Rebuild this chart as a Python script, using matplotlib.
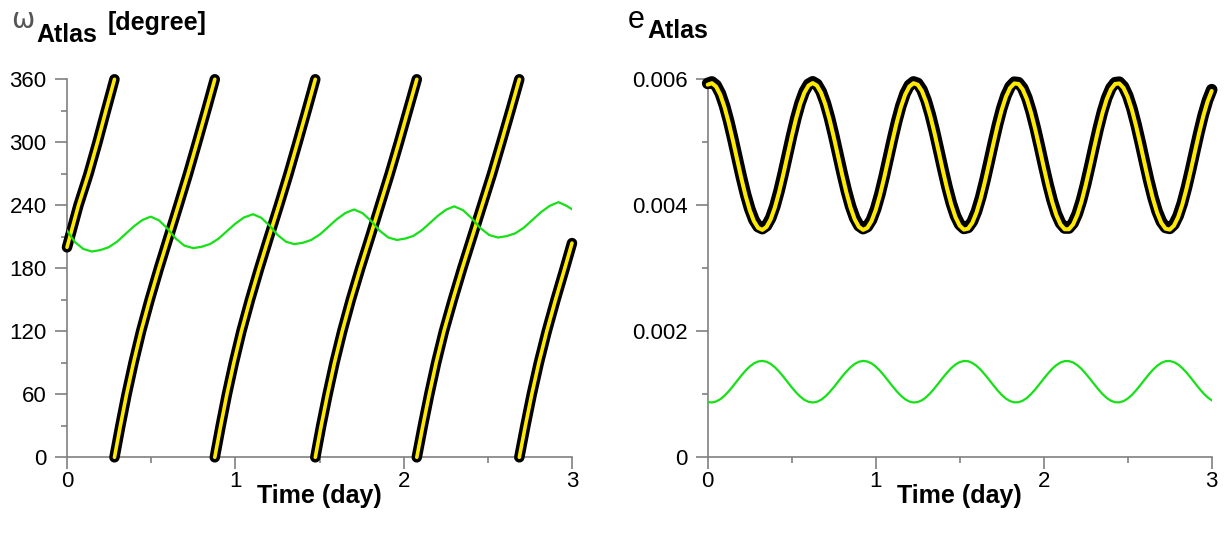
import matplotlib
matplotlib.use("Agg")
import matplotlib.pyplot as plt
import matplotlib.transforms as mtransforms
from matplotlib.ticker import MultipleLocator, FixedLocator, FixedFormatter

plt.rcParams['font.family'] = ['Liberation Sans', 'DejaVu Sans']

# --- left panel: argument of pericentre of Atlas, one piece per wrap 0..360 ---
omega_t = [
    [0.000, 0.017, 0.068, 0.128, 0.181, 0.231, 0.282],
    [0.282, 0.317, 0.354, 0.395, 0.440, 0.491, 0.546, 0.604, 0.662, 0.719, 0.773, 0.826, 0.878],
    [0.878, 0.913, 0.950, 0.991, 1.036, 1.087, 1.142, 1.200, 1.259, 1.316, 1.370, 1.423, 1.475],
    [1.475, 1.510, 1.548, 1.589, 1.635, 1.686, 1.742, 1.801, 1.859, 1.917, 1.972, 2.025, 2.078],
    [2.078, 2.114, 2.152, 2.193, 2.239, 2.292, 2.348, 2.407, 2.466, 2.525, 2.580, 2.634, 2.687],
    [2.687, 2.723, 2.761, 2.803, 2.850, 2.902, 2.957, 3.000],
]
omega_deg = [
    [200, 210, 240, 270, 300, 330, 360],
    [0, 30, 60, 90, 120, 150, 180, 210, 240, 270, 300, 330, 360],
    [0, 30, 60, 90, 120, 150, 180, 210, 240, 270, 300, 330, 360],
    [0, 30, 60, 90, 120, 150, 180, 210, 240, 270, 300, 330, 360],
    [0, 30, 60, 90, 120, 150, 180, 210, 240, 270, 300, 330, 360],
    [0, 30, 60, 90, 120, 150, 180, 204],
]

# green curve (left)
omega_g_t = [0.000, 0.047, 0.097, 0.147, 0.197, 0.247, 0.297, 0.347, 0.397, 0.447, 0.497,
             0.547, 0.597, 0.647, 0.697, 0.750, 0.800, 0.850, 0.900, 0.950, 1.000, 1.050,
             1.105, 1.154, 1.203, 1.252, 1.301, 1.350, 1.401, 1.451, 1.502, 1.553, 1.603,
             1.654, 1.705, 1.756, 1.807, 1.858, 1.909, 1.960, 2.009, 2.057, 2.106, 2.155,
             2.203, 2.252, 2.300, 2.352, 2.404, 2.456, 2.508, 2.560, 2.611, 2.663, 2.714,
             2.766, 2.817, 2.869, 2.920, 2.970, 3.000]
omega_g = [216.0, 205.0, 198.4, 196.0, 197.3, 200.0, 205.3, 212.6, 219.9, 225.9, 229.2,
           225.6, 217.8, 208.2, 201.6, 199.2, 200.5, 203.1, 208.2, 215.4, 222.5, 228.3,
           231.5, 228.1, 220.7, 211.6, 205.3, 203.0, 204.3, 207.0, 212.2, 219.5, 226.8,
           232.7, 236.0, 232.5, 225.0, 215.7, 209.3, 207.0, 208.3, 210.8, 216.0, 223.0,
           230.0, 235.8, 239.0, 235.4, 227.7, 218.2, 211.7, 209.3, 210.6, 213.3, 218.7,
           226.2, 233.6, 239.6, 243.0, 239.3, 236.2]

# --- right panel: eccentricity (x 1e-3), read every 0.025 day ---
e_time = [round(0.025 * i, 3) for i in range(121)]
e_atlas = [5.915, 5.938, 5.884, 5.755, 5.560, 5.313, 5.030, 4.730, 4.432, 4.158,
           3.925, 3.749, 3.642, 3.610, 3.657, 3.779, 3.967, 4.210, 4.491, 4.790,
           5.089, 5.366, 5.604, 5.786, 5.901, 5.940, 5.901, 5.786, 5.604, 5.366,
           5.089, 4.790, 4.491, 4.210, 3.967, 3.779, 3.657, 3.610, 3.642, 3.749,
           3.925, 4.158, 4.432, 4.730, 5.030, 5.313, 5.560, 5.755, 5.884, 5.938,
           5.915, 5.815, 5.645, 5.417, 5.147, 4.851, 4.550, 4.264, 4.012, 3.812,
           3.676, 3.614, 3.629, 3.722, 3.885, 4.107, 4.375, 4.669, 4.971, 5.259,
           5.515, 5.721, 5.864, 5.934, 5.926, 5.841, 5.685, 5.467, 5.203, 4.911,
           4.609, 4.319, 4.059, 3.847, 3.697, 3.620, 3.620, 3.697, 3.847, 4.059,
           4.319, 4.609, 4.911, 5.203, 5.467, 5.684, 5.841, 5.926, 5.934, 5.864,
           5.721, 5.516, 5.259, 4.971, 4.669, 4.375, 4.108, 3.885, 3.722, 3.629,
           3.614, 3.676, 3.812, 4.012, 4.264, 4.549, 4.850, 5.146, 5.417, 5.645,
           5.815]
e_green = [0.877, 0.870, 0.886, 0.922, 0.978, 1.048, 1.128, 1.213, 1.297, 1.375,
           1.441, 1.491, 1.521, 1.530, 1.517, 1.482, 1.429, 1.360, 1.281, 1.196,
           1.111, 1.033, 0.965, 0.913, 0.881, 0.870, 0.881, 0.913, 0.965, 1.033,
           1.111, 1.196, 1.281, 1.360, 1.429, 1.482, 1.517, 1.530, 1.521, 1.491,
           1.441, 1.375, 1.297, 1.213, 1.128, 1.048, 0.978, 0.922, 0.886, 0.870,
           0.877, 0.905, 0.953, 1.018, 1.095, 1.179, 1.264, 1.345, 1.416, 1.473,
           1.511, 1.529, 1.525, 1.498, 1.452, 1.389, 1.313, 1.230, 1.145, 1.063,
           0.990, 0.932, 0.892, 0.872, 0.874, 0.898, 0.942, 1.004, 1.079, 1.162,
           1.247, 1.329, 1.403, 1.463, 1.505, 1.527, 1.527, 1.505, 1.463, 1.403,
           1.329, 1.247, 1.162, 1.079, 1.004, 0.942, 0.898, 0.874, 0.872, 0.892,
           0.932, 0.990, 1.063, 1.145, 1.230, 1.313, 1.389, 1.452, 1.498, 1.525,
           1.529, 1.511, 1.473, 1.416, 1.345, 1.264, 1.179, 1.095, 1.018, 0.953,
           0.905]
e_atlas = [v * 1e-3 for v in e_atlas]
e_green = [v * 1e-3 for v in e_green]

yellow = '#ffea00'
green = '#16e016'
axis_gray = '#808080'

fig = plt.figure(figsize=(12.27, 5.33), dpi=100)
ax1 = fig.add_axes([67 / 1227, 75.7 / 533, 505 / 1227, 378 / 533])
ax2 = fig.add_axes([707.7 / 1227, 75.7 / 533, 504 / 1227, 378 / 533])

for t, w in zip(omega_t, omega_deg):
    ax1.plot(t, w, color='black', lw=7.6, solid_capstyle='round',
             solid_joinstyle='round', clip_on=False, zorder=3)
    ax1.plot(t, w, color=yellow, lw=2.6, solid_capstyle='round',
             solid_joinstyle='round', clip_on=False, zorder=4)
ax1.plot(omega_g_t, omega_g, color=green, lw=1.6, zorder=5)

# black outline sits a hair above the yellow trace in the e panel
up = ax2.transData + mtransforms.ScaledTranslation(0, 0.9 / 72, fig.dpi_scale_trans)
ax2.plot(e_time, e_atlas, color='black', lw=8.4, solid_capstyle='round',
         solid_joinstyle='round', clip_on=False, zorder=3, transform=up)
ax2.plot(e_time, e_atlas, color=yellow, lw=2.9, solid_capstyle='round',
         solid_joinstyle='round', clip_on=False, zorder=4)
ax2.plot(e_time, e_green, color=green, lw=1.6, zorder=5)

ax1.set_xlim(0, 3)
ax1.set_ylim(0, 360)
ax1.yaxis.set_major_locator(MultipleLocator(60))
ax1.yaxis.set_minor_locator(MultipleLocator(30))

ax2.set_xlim(0, 3)
ax2.set_ylim(0, 0.006)
ax2.yaxis.set_major_locator(FixedLocator([0, 0.002, 0.004, 0.006]))
ax2.yaxis.set_major_formatter(FixedFormatter(['0', '0.002', '0.004', '0.006']))
ax2.yaxis.set_minor_locator(MultipleLocator(0.001))

for ax in (ax1, ax2):
    ax.xaxis.set_major_locator(MultipleLocator(1))
    ax.xaxis.set_minor_locator(MultipleLocator(0.5))
    for s in ('top', 'right'):
        ax.spines[s].set_visible(False)
    for s in ('left', 'bottom'):
        ax.spines[s].set_color(axis_gray)
        ax.spines[s].set_linewidth(1.2)
    ax.tick_params(which='major', direction='out', length=8.6, width=1.2,
                   color=axis_gray, labelsize=16, labelcolor='black')
    ax.tick_params(which='minor', direction='out', length=4.6, width=1.2,
                   color=axis_gray)
    ax.tick_params(axis='x', which='major', pad=1.5)
    ax.tick_params(axis='y', which='major', pad=6)
    ax.set_xlabel('Time (day)', fontsize=18, fontweight='bold', labelpad=-6)

# panel titles
fig.text(11 / 1227, 1 - 28 / 533, 'ω', fontsize=20, color='#555555',
         family=['DejaVu Sans'], va='baseline')
fig.text(36 / 1227, 1 - 41.5 / 533, 'Atlas', fontsize=18, fontweight='bold', va='baseline')
fig.text(108 / 1227, 1 - 30 / 533, '[degree]', fontsize=18, fontweight='bold', va='baseline')

fig.text(628 / 1227, 1 - 28 / 533, 'e', fontsize=22, va='baseline')
fig.text(647 / 1227, 1 - 38 / 533, 'Atlas', fontsize=18, fontweight='bold', va='baseline')

fig.savefig('out.png', dpi=100)
